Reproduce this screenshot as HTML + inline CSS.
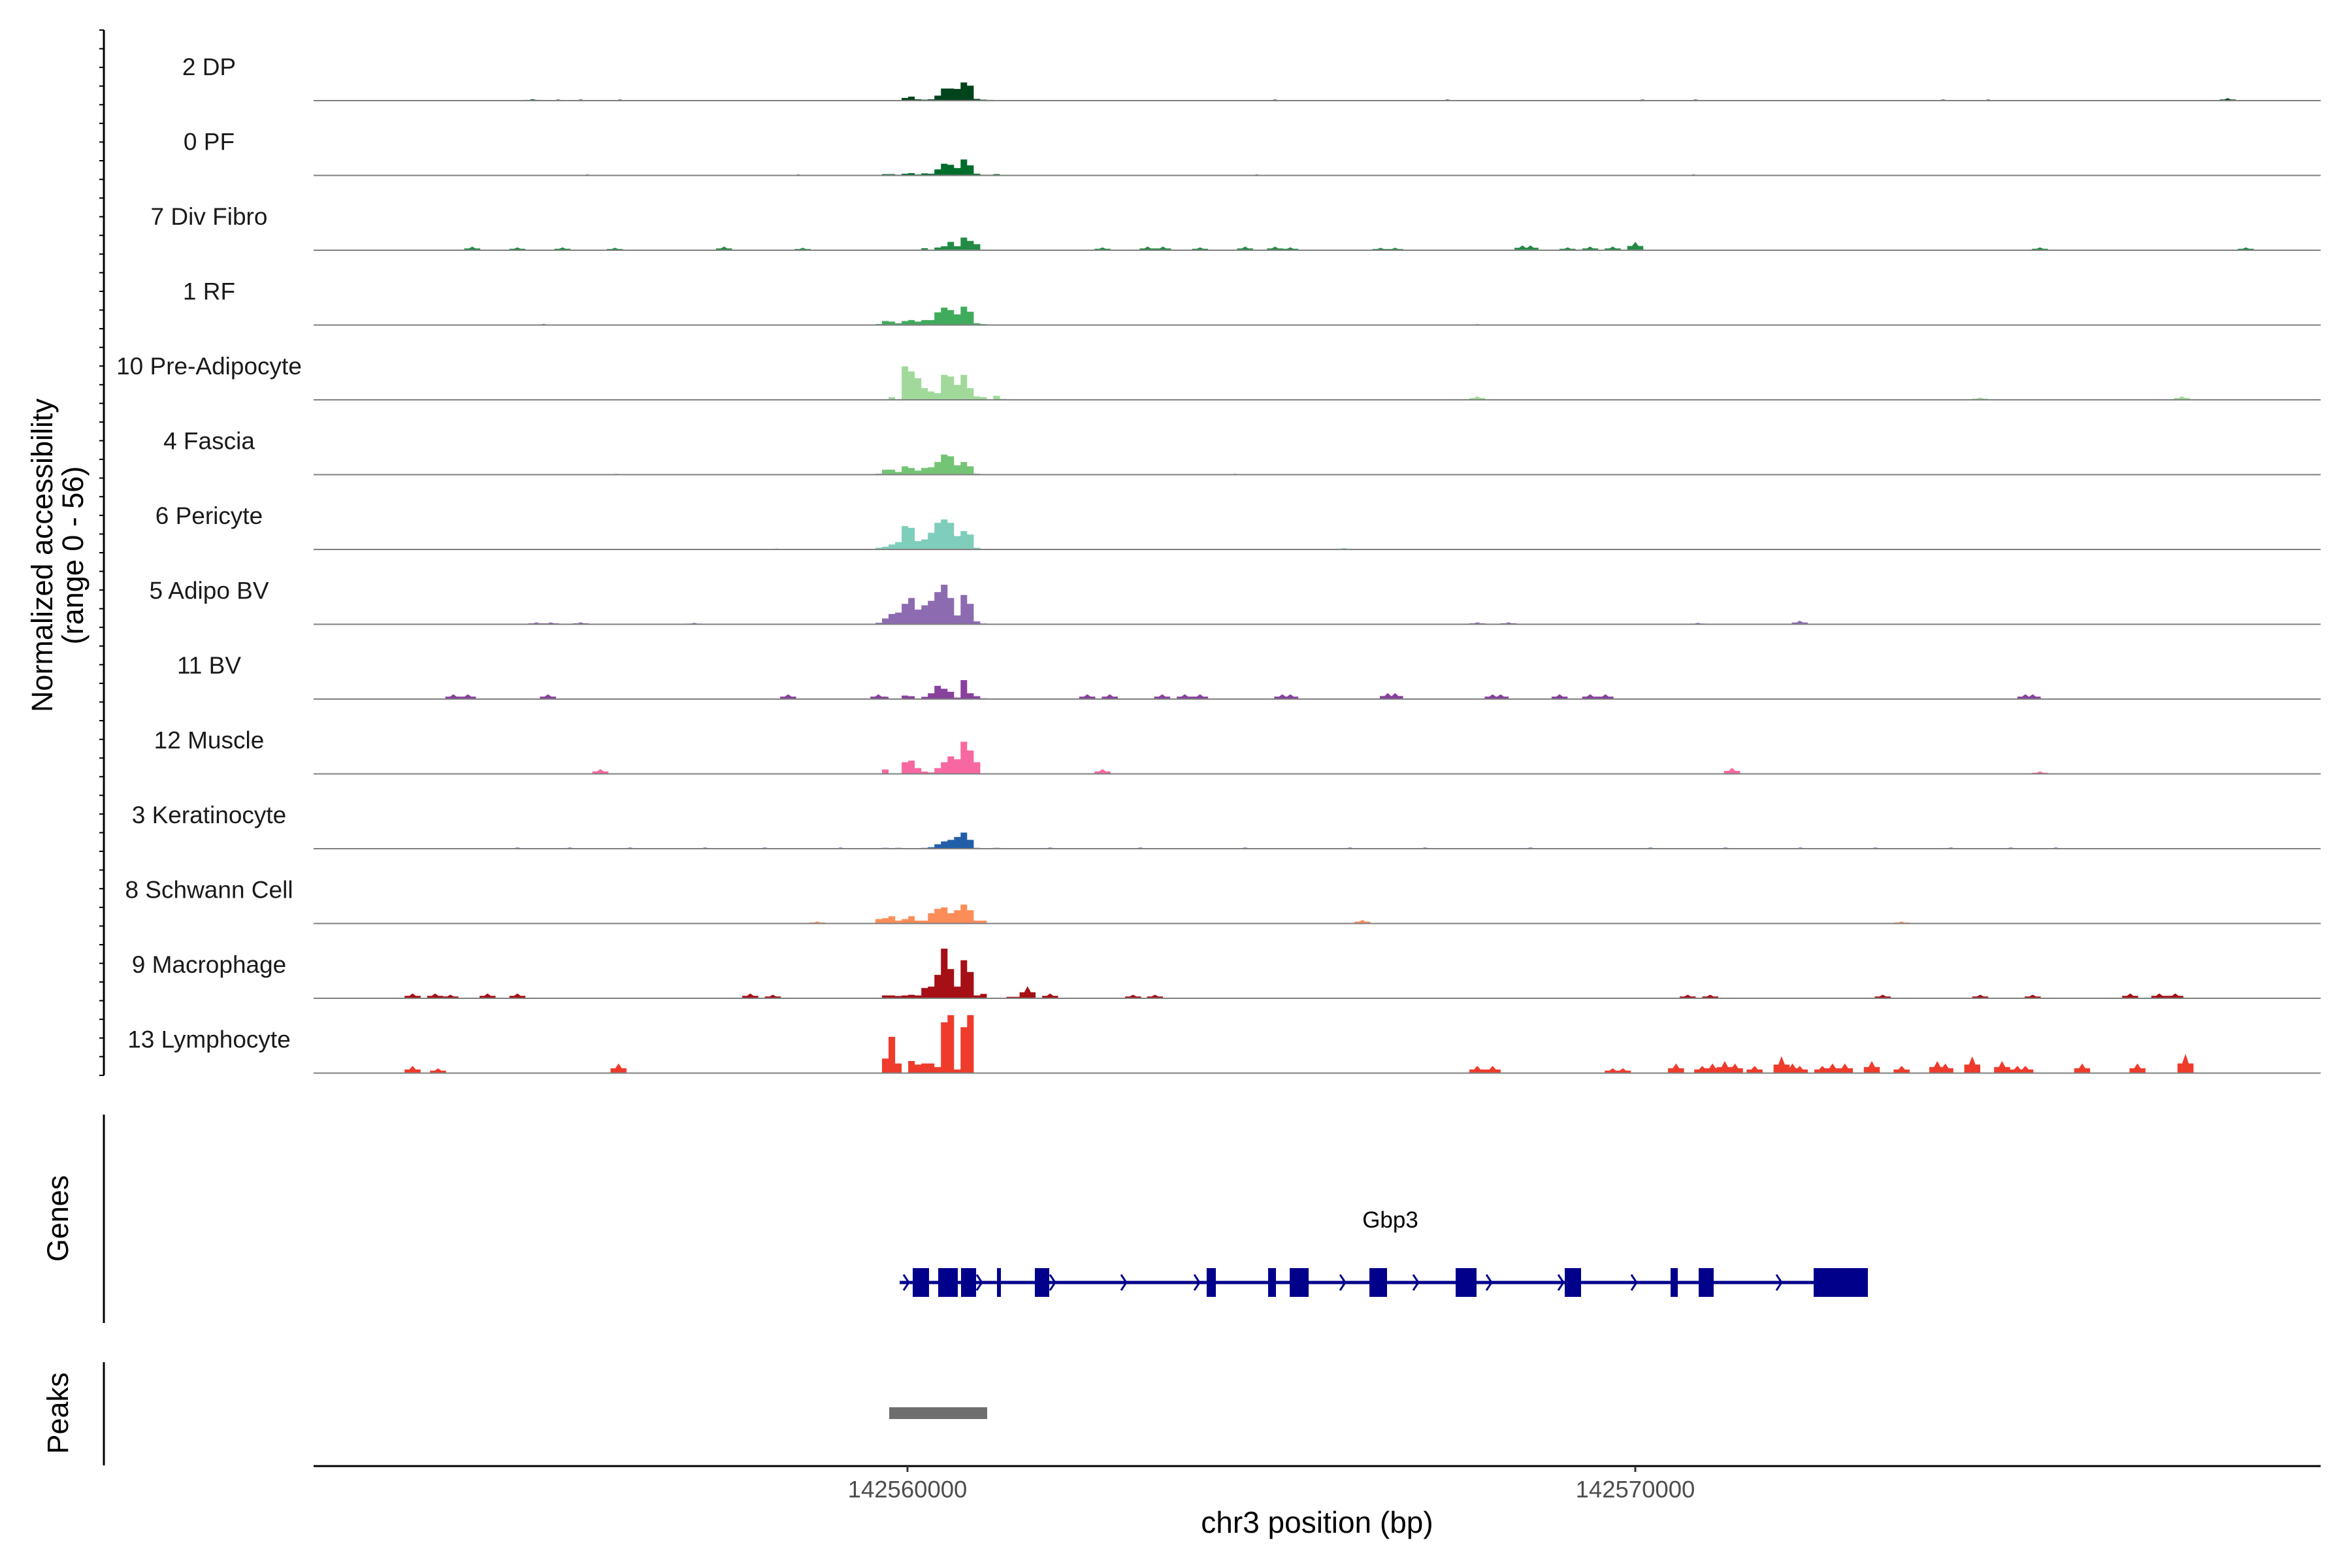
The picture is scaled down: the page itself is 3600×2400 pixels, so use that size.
<!DOCTYPE html>
<html><head><meta charset="utf-8"><style>
html,body{margin:0;padding:0;background:#fff}
svg{display:block;font-family:"Liberation Sans",Arial,sans-serif}
</style></head><body>
<svg id="chart" width="3600" height="2400" viewBox="0 0 3600 2400" xmlns="http://www.w3.org/2000/svg">
<g id="tracks"></g>
<g id="axes"></g>
<g id="genes"></g>
<g id="peaks"></g>
</svg>
<script>
// ---- data ----
const trackNames = ["2 DP","0 PF","7 Div Fibro","1 RF","10 Pre-Adipocyte","4 Fascia","6 Pericyte","5 Adipo BV","11 BV","12 Muscle","3 Keratinocyte","8 Schwann Cell","9 Macrophage","13 Lymphocyte"];
const trackColors = ["#00441b","#006d2c","#238b45","#41ab5d","#a1d99b","#74c476","#7fcdbb","#8c6bb1","#88419d","#f768a1","#225ea8","#fc8d59","#a50f15","#ef3b2c"];
const regionStart = 142551840, regionEnd = 142579417;
const binOrigin = 142559380, binSize = 90;
const binDP = [0,0,.5,.5,.5,.3,2.2,3.3,1.1,.8,1.1,4.1,10,10,9.7,15,12.4,1.4,.8,.6,0,0,0,0];
const binPF = [0,0,0,1.1,1.1,.6,1.4,1.9,.8,1.7,1.4,5,9.7,8.8,6.1,13.2,8.3,1.4,.6,.6,1.1,0,0,0];
const binDiv = [0,0,0,0,0,0,0,0,0,1.7,.5,2.2,3.3,6.9,3.3,10.5,7.7,5,.5,0,0,0,0,0];
const binRF = [0,0,.8,3.3,2.8,1.4,3.3,4.1,2.8,4.1,4.1,10.5,14.4,12.4,8.8,15.2,11,1.4,.8,.3,0,0,0,0];
const binPre = [0,0,0,0,2.2,0,27.6,23.5,17.9,9.7,6.9,5.5,20.7,19.3,12.4,20.7,9.7,2.8,2.2,0,3.3,.8,0,0];
const binFas = [0,0,.8,4.1,4.1,2.2,6.9,5.5,3.3,5.5,6.1,10.5,16.6,15.2,7.7,10.5,6.9,.8,0,0,.5,0,0,0];
const binPer = [0,0,1.4,2.2,4.1,6.1,19.3,17.9,6.9,8.3,13.8,22,24.8,22,11,15.2,12.4,1.4,0,0,0,0,0,0];
const binABV = [.2,0,1.2,4.8,8.5,9.7,16.9,21.8,12.1,15.7,19.4,26.6,32.7,21.8,7.3,24.2,16.9,2.4,.7,0,0,0,.2,0];
const binBV = [0,0,0,1.9,0,0,2.9,2.4,.5,1.9,4.8,10.9,8.5,6,1.2,15.7,4.8,2.4,.7,0,0,0,0,0];
const binMus = [0,0,0,3.6,0,0,9.7,10.9,4.8,1.9,1.2,4.8,9.7,14.5,12.1,26.6,19.4,9.7,0,0,0,0,0,0];
const binKer = [.5,0,0,.7,.5,.7,.5,.5,.5,.7,1.2,3.6,6,7.3,9.7,13.3,7.3,.7,.5,.5,.7,0,.5,0];
const binSch = [.5,0,3.6,4.4,6,2.4,3.6,6,2.4,2.4,8.5,12.1,13.3,8.5,10.9,15.7,10.9,2.4,2.4,0,.5,0,0,0];
const binMac = [0,0,0,2.4,2.4,1.9,2.4,2.9,2.4,8.5,9.7,19.4,41.1,24.2,9.7,31.5,21.8,2.4,3.6,0,0,0,1.2,1.2];
const binLym = [0,0,0,12,30,8,0,10,7,8,8,5,42,48,3,38,48,0,0,0,0,0,0,0];
// small bumps: [position (bp), value]
const bumpDP = [[142554850,1.2],[142555200,1],[142555510,1],[142556050,1],[142565050,1],[142567420,1],[142570100,1],[142570830,1],[142574230,1],[142574850,1],[142578140,2]];
const bumpPF = [[142555600,.8],[142558500,.8],[142564800,.8],[142570800,.8]];
const bumpDiv = [[142554020,3],[142554640,2.4],[142555260,2.4],[142555980,2],[142557480,3],[142558560,2],[142562680,2.4],[142563300,3],[142563510,3],[142564020,2.4],[142564640,3],[142565050,3],[142565260,2.4],[142566500,2],[142566700,2],[142568450,4],[142568560,4],[142569070,2.4],[142569380,3],[142569690,3],[142570000,7],[142575560,2.4],[142578390,2.4]];
const bumpRF = [[142555000,1],[142567830,.8]];
const bumpPre = [[142567830,3],[142574740,2],[142577510,3]];
const bumpFas = [[142556000,.8],[142564500,.8]];
const bumpPer = [[142566000,1.2],[142558200,.8]];
const bumpABV = [[142554900,1.6],[142555100,1.6],[142555510,1.6],[142557070,1.2],[142567830,1.6],[142568260,1.6],[142572260,3],[142570860,1.2]];
const bumpBV = [[142553760,4],[142553960,4],[142555060,4],[142558360,4],[142559600,4],[142562470,4],[142562780,4],[142563500,4],[142563810,4],[142564020,4],[142565150,4],[142565260,4],[142566600,5],[142566700,5],[142568040,4],[142568150,4],[142568960,4],[142569380,4],[142569590,4],[142575360,4],[142575460,4]];
const bumpMus = [[142555780,4],[142562680,4],[142571330,5],[142575560,2]];
const bumpKer = [[142554640,1],[142555360,1],[142556190,1],[142557220,1],[142558040,1],[142559080,1],[142561960,1],[142563200,1],[142564640,1],[142566080,1],[142567110,1],[142568560,1],[142570210,1],[142571240,1],[142572270,1],[142573300,1],[142574340,1],[142575160,1],[142575780,1]];
const bumpSch = [[142558760,1.6],[142566250,3],[142573660,1.6]];
const bumpMac = [[142553200,4],[142553510,4],[142553720,3],[142554230,4],[142554640,4],[142557840,4],[142558150,3],[142561650,10],[142561960,4],[142563100,3],[142563400,3],[142570720,3],[142571030,3],[142573400,3],[142574740,3],[142575460,3],[142576800,4],[142577200,4],[142577420,4]];
const bumpLym = [[142553200,6],[142553550,4],[142556030,8],[142567830,6],[142568040,6],[142569690,4],[142569830,4],[142570560,8],[142570920,6],[142571060,8],[142571230,10],[142571370,8],[142571640,6],[142572010,14],[142572160,8],[142572260,6],[142572570,6],[142572710,8],[142572880,8],[142573250,10],[142573660,6],[142574150,10],[142574260,8],[142574630,14],[142575040,10],[142575250,6],[142575360,6],[142576140,8],[142576900,8],[142577560,16]];
const trackBins = [binDP,binPF,binDiv,binRF,binPre,binFas,binPer,binABV,binBV,binMus,binKer,binSch,binMac,binLym];
const trackBumps = [bumpDP,bumpPF,bumpDiv,bumpRF,bumpPre,bumpFas,bumpPer,bumpABV,bumpBV,bumpMus,bumpKer,bumpSch,bumpMac,bumpLym];
const xTicks = [142560000,142570000];
const xTickLabels = ["142560000","142570000"];
const exonStarts = [142560072,142560422,142560736,142561230,142561750,142564111,142564955,142565252,142566347,142567532,142569031,142570485,142570871,142572451];
const exonEnds = [142560296,142560691,142560943,142561284,142561948,142564237,142565063,142565512,142566589,142567819,142569255,142570584,142571077,142573196];
const arrowPos = [142559982,142560987,142561993,142562971,142563977,142565979,142566984,142567990,142568977,142569982,142571975];
const peakStarts = [142559749];
const peakEnds = [142561095];

// ---- scales ----
const NS="http://www.w3.org/2000/svg";
const x0=480,x1=3552;
function xs(bp){return x0+(bp-regionStart)/(regionEnd-regionStart)*(x1-x0);}
const base0=154, rowH=114.5, pxPerUnit=1.85;
function ys(i,v){return base0+i*rowH - v*pxPerUnit;}
function mk(tag,attrs,parent){const e=document.createElementNS(NS,tag);for(const k in attrs)e.setAttribute(k,attrs[k]);parent.appendChild(e);return e;}

const tracks=document.getElementById('tracks');
trackNames.forEach((name,i)=>{
  const g=mk('g',{},tracks);
  
  
  const baseY=base0+i*rowH;
  let d='';
  trackBins[i].forEach((v,j)=>{
    if(v<=0)return;
    const a=xs(binOrigin+j*binSize), b=xs(binOrigin+(j+1)*binSize);
    d+=`M${a.toFixed(1)},${baseY}V${ys(i,v).toFixed(1)}H${b.toFixed(1)}V${baseY}Z`;
  });
  trackBumps[i].forEach(([p,v])=>{
    const a=xs(p-110), b=xs(p+110), m=xs(p);
    d+=`M${a.toFixed(1)},${baseY}V${ys(i,v*0.5).toFixed(1)}H${(m-5).toFixed(1)}L${m.toFixed(1)},${ys(i,v).toFixed(1)}L${(m+5).toFixed(1)},${ys(i,v*0.5).toFixed(1)}H${b.toFixed(1)}V${baseY}Z`;
  });
  const p=mk('path',{d:d,fill:trackColors[i]},g);
  
  
  const bl=mk('line',{x1:x0,x2:x1,y1:baseY,y2:baseY,stroke:'#7f7f7f','stroke-width':2},g);
  
  
  const t=mk('text',{x:320,y:baseY-39,'text-anchor':'middle','font-size':37,fill:'#1a1a1a'},g);
  t.textContent=name;
  
  
});

// ---- axes ----
const axes=document.getElementById('axes');
mk('line',{x1:159,x2:159,y1:46,y2:1646,stroke:'#000','stroke-width':3},axes);
for(let y=46;y<=1646;y+=28.57){mk('line',{x1:152,x2:159,y1:y,y2:y,stroke:'#000','stroke-width':2},axes);}
const yt=mk('text',{transform:'translate(80,850) rotate(-90)','text-anchor':'middle','font-size':45,fill:'#000'},axes);
yt.textContent='Normalized accessibility';


const yt2=mk('text',{transform:'translate(127,850) rotate(-90)','text-anchor':'middle','font-size':45,fill:'#000'},axes);
yt2.textContent='(range 0 - 56)';


mk('line',{x1:159,x2:159,y1:1706,y2:2025,stroke:'#000','stroke-width':3},axes);
const gt=mk('text',{transform:'translate(104,1865) rotate(-90)','text-anchor':'middle','font-size':45,fill:'#000'},axes);
gt.textContent='Genes';


mk('line',{x1:159,x2:159,y1:2085,y2:2243,stroke:'#000','stroke-width':3},axes);
const pt=mk('text',{transform:'translate(104,2163) rotate(-90)','text-anchor':'middle','font-size':45,fill:'#000'},axes);
pt.textContent='Peaks';


mk('line',{x1:x0,x2:x1,y1:2244,y2:2244,stroke:'#000','stroke-width':3},axes);
xTicks.forEach((v,i)=>{
  const x=xs(v);
  mk('line',{x1:x,x2:x,y1:2244,y2:2253,stroke:'#333','stroke-width':3},axes);
  const t=mk('text',{x:x,y:2292,'text-anchor':'middle','font-size':36.5,fill:'#4d4d4d'},axes);
  t.textContent=xTickLabels[i];
  
  
});
const xt=mk('text',{x:2016,y:2346,'text-anchor':'middle','font-size':46,fill:'#000'},axes);
xt.textContent='chr3 position (bp)';



// ---- genes ----
const genes=document.getElementById('genes');
const gy=1963, navy='#00008b';
const gs=xs(exonStarts[0]), ge=xs(exonEnds[exonEnds.length-1]);
mk('rect',{x:gs-20,y:gy-2.5,width:ge-gs+20,height:5,fill:navy},genes);
exonStarts.forEach((s,i)=>{
  const e=mk('rect',{x:xs(s),y:gy-22,width:Math.max(3,xs(exonEnds[i])-xs(s)),height:44,fill:navy},genes);
  
  
});
arrowPos.forEach(p=>{
  const x=xs(p);
  const a=mk('polyline',{points:`${x-4},${gy-12} ${x+4},${gy} ${x-4},${gy+12}`,fill:'none',stroke:navy,'stroke-width':3},genes);
  
  
});
const gl=mk('text',{x:(gs+ge)/2,y:1879,'text-anchor':'middle','font-size':35,fill:'#000'},genes);
gl.textContent='Gbp3';



// ---- peaks ----
const peaks=document.getElementById('peaks');
peakStarts.forEach((s,i)=>{
  const r=mk('rect',{x:xs(s),y:2154,width:xs(peakEnds[i])-xs(s),height:18,fill:'#6e6e6e'},peaks);
  
  
});
</script>
</body></html>
